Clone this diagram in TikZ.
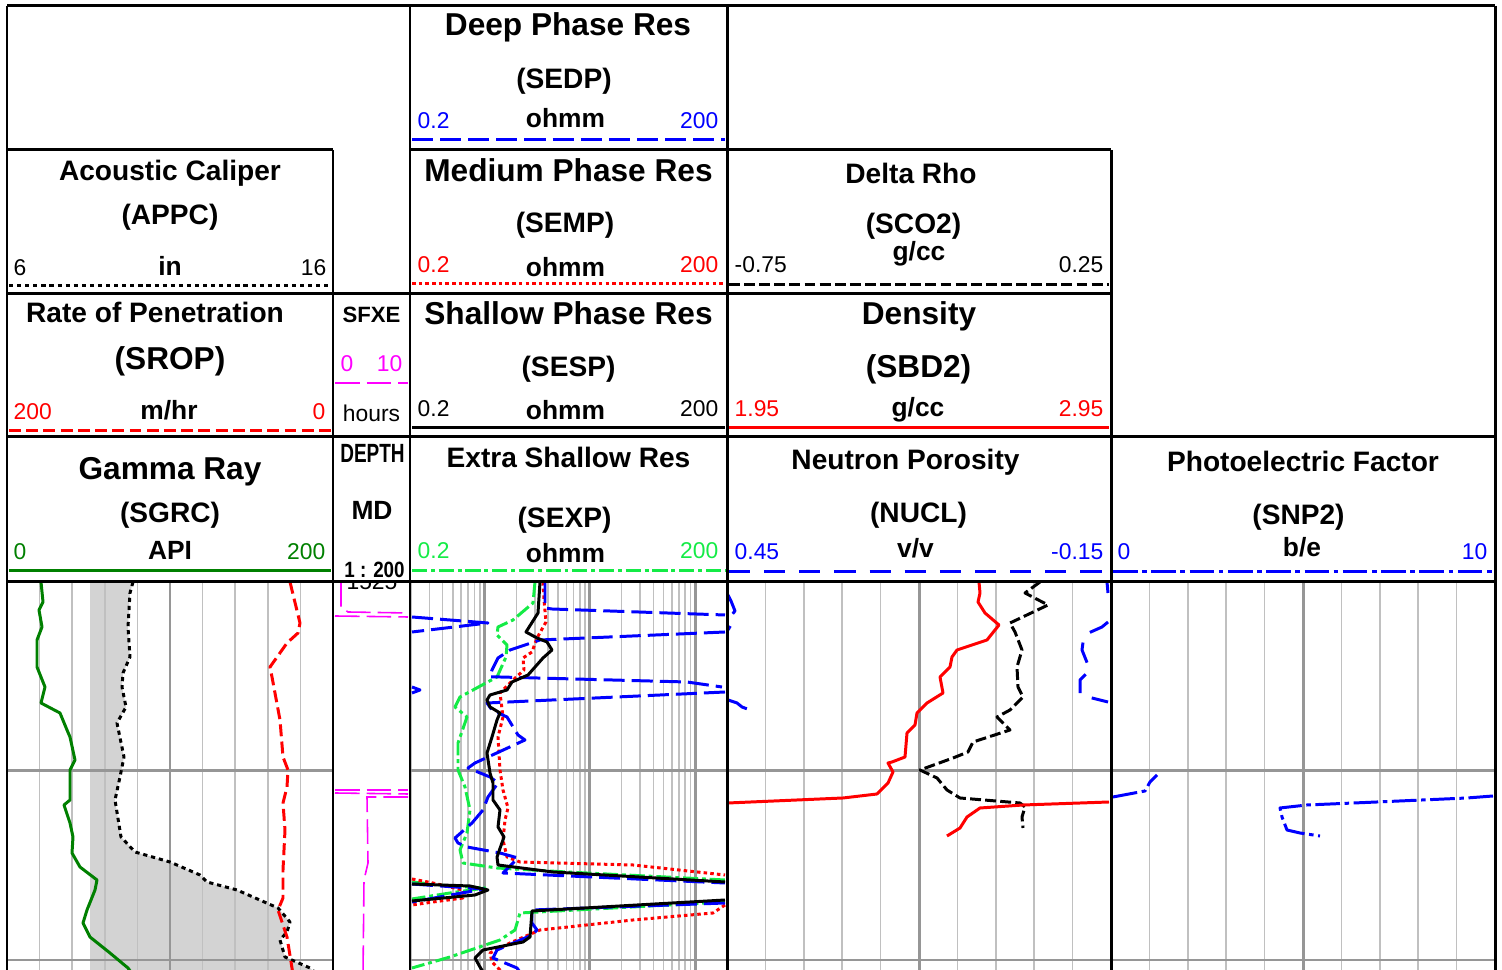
\documentclass[tikz,border=0pt]{standalone}
\usepackage{fontspec}
\usepackage{graphicx}
\setmainfont{Liberation Sans}

\definecolor{grgreen}{RGB}{0,128,0}
\definecolor{xsgreen}{RGB}{20,235,70}
\definecolor{sfxepink}{RGB}{255,0,255}
\definecolor{gridlo}{RGB}{192,192,192}
\definecolor{gridhi}{RGB}{150,150,150}
\definecolor{holegray}{RGB}{211,211,211}

\newcommand\calpts{(133,582) -- (130,593) -- (128,627) -- (130,657) -- (123,673)
  -- (122,687) -- (126,707) -- (117,723) -- (124,757) -- (120,777) -- (115,800)
  -- (121,837) -- (135,852) -- (170,862) -- (200,875) -- (207,882) -- (237,890)
  -- (278,908) -- (290,922) -- (287,932) -- (280,940) -- (285,957) -- (310,968)
  -- (318,975)}

\begin{document}
\begin{tikzpicture}[x=0.1mm,y=-0.1mm,
        trackline/.style={line width=0.85pt},
        curve/.style={line width=0.85pt,line join=round},
        minorgrid/.style={gridlo,line width=0.45pt},
        majorgrid/.style={gridhi,line width=0.85pt},
        calcurve/.style={curve,black,dash pattern=on 1.2pt off 1.1pt},
        ropcurve/.style={curve,red,dash pattern=on 3.4pt off 1.5pt},
        grcurve/.style={curve,grgreen},
        sfxecurve/.style={sfxepink,line width=0.45pt,dash pattern=on 7pt off 2pt},
        deepcurve/.style={curve,blue,dash pattern=on 6pt off 2pt},
        medcurve/.style={curve,red,dash pattern=on 1pt off 0.9pt},
        shalcurve/.style={curve,black},
        xshalcurve/.style={curve,xsgreen,dash pattern=on 4.3pt off 1.1pt on 1.1pt off 1.1pt},
        drhocurve/.style={curve,black,dash pattern=on 3.1pt off 1.2pt},
        dencurve/.style={curve,red},
        neucurve/.style={curve,blue,dash pattern=on 6pt off 4pt},
        pefcurve/.style={curve,blue,dash pattern=on 7pt off 1.3pt on 1.3pt off 1.3pt},
        title/.style={font=\fontsize{8}{9}\selectfont\bfseries,anchor=base},
        bigtitle/.style={font=\fontsize{9}{10}\selectfont\bfseries,anchor=base},
        unit/.style={font=\fontsize{7.5}{8}\selectfont\bfseries,anchor=base},
        num/.style={font=\fontsize{6.5}{7}\selectfont,anchor=base,inner sep=0pt},
        lnum/.style={num,anchor=base west},
        rnum/.style={num,anchor=base east}]

        \useasboundingbox (0,0) rectangle (1502,970);

        \fill[holegray] \calpts -- (90,975) -- (90,582) -- cycle;

        \foreach \i in {1,...,9} {
          \draw[minorgrid] ({7+32.6*\i},582) -- ++(0,393);
          \draw[minorgrid] ({727+38.4*\i},582) -- ++(0,393);
          \draw[minorgrid] ({1111+38.4*\i},582) -- ++(0,393);
        }
        \foreach \k in {-1,0,1} {
          \foreach \m in {2,...,9}
            \draw[minorgrid] ({484.6+105.33*(\k+log10(\m))},582) -- ++(0,393);
        }
        \foreach \x in {170,484.6,589.9,695.2,919,1303}
          \draw[majorgrid] (\x,582) -- ++(0,393);
        \foreach \y in {771,960} {
          \draw[majorgrid] (7,\y) -- (333,\y);
          \draw[majorgrid] (410,\y) -- (1495,\y);
        }

        \node[title] (calT) at (170,181) {Acoustic Caliper};
        \node[title] (calM) at (170,225) {(APPC)};
        \node[lnum] (calL) at (13,276) {6};
        \node[unit] (calU) at (170,276) {in};
        \node[rnum] (calR) at (327,276) {16};
        \draw[calcurve] (9,286) -- (331,286);

        \node[title] (ropT) at (155,323) {Rate of Penetration};
        \node[bigtitle] (ropM) at (170,370) {(SROP)};
        \node[lnum,red] (ropL) at (13,420) {200};
        \node[unit] (ropU) at (169,420) {m/hr};
        \node[rnum,red] (ropR) at (326,420) {0};
        \draw[ropcurve] (9,431) -- (331,431);

        \node[bigtitle] (grT) at (170,480) {Gamma Ray};
        \node[title] (grM) at (170,523) {(SGRC)};
        \node[lnum,grgreen] (grL) at (13,560) {0};
        \node[unit] (grU) at (170,560) {API};
        \node[rnum,grgreen] (grR) at (326,560) {200};
        \draw[grcurve] (9,571) -- (331,571);

        \node[font=\fontsize{6.3}{7}\selectfont\bfseries,anchor=base] (sfxeT) at (371.5,323) {SFXE};
        \node[lnum,sfxepink] (sfxeL) at (340,372) {0};
        \node[rnum,sfxepink] (sfxeR) at (403,372) {10};
        \draw[sfxecurve] (335,383) -- (408,383);
        \node[num] (sfxeU) at (371.5,422) {hours};
        \node[font=\fontsize{7.5}{8}\selectfont\bfseries,anchor=base] (depT) at (372.5,463) {\scalebox{0.72}[1]{DEPTH}};
        \node[unit] (depM) at (372,520) {MD};
        \node[font=\fontsize{6.3}{7}\selectfont\bfseries,anchor=base] (depS) at (374.5,578) {\scalebox{0.85}[1]{1 : 200}};
        \begin{scope}
          \clip (333,584) rectangle (410,975);
          \node[num] (depTop) at (372,590) {1525};
        \end{scope}

        \node[bigtitle] (sedpT) at (568,36) {Deep Phase Res};
        \node[title] (sedpM) at (564,89) {(SEDP)};
        \node[lnum,blue] (sedpL) at (417,129) {0.2};
        \node[unit] (sedpU) at (565.5,128) {ohmm};
        \node[rnum,blue] (sedpR) at (719,129) {200};
        \draw[deepcurve] (412,140) -- (725,140);

        \node[bigtitle] (sempT) at (568.5,182) {Medium Phase Res};
        \node[title] (sempM) at (565,233) {(SEMP)};
        \node[lnum,red] (sempL) at (417,273) {0.2};
        \node[unit] (sempU) at (565.5,277) {ohmm};
        \node[rnum,red] (sempR) at (719,273) {200};
        \draw[medcurve] (412,284) -- (725,284);

        \node[bigtitle] (sespT) at (568.5,325) {Shallow Phase Res};
        \node[title] (sespM) at (568.5,377) {(SESP)};
        \node[lnum] (sespL) at (417,417) {0.2};
        \node[unit] (sespU) at (565.5,420) {ohmm};
        \node[rnum] (sespR) at (719,417) {200};
        \draw[shalcurve] (412,428) -- (725,428);

        \node[title] (sexpT) at (568.5,468) {Extra Shallow Res};
        \node[title] (sexpM) at (564.5,528) {(SEXP)};
        \node[lnum,xsgreen] (sexpL) at (417,559) {0.2};
        \node[unit] (sexpU) at (565.5,563) {ohmm};
        \node[rnum,xsgreen] (sexpR) at (719,559) {200};
        \draw[xshalcurve] (412,571) -- (725,571);

        \node[title] (drhoT) at (911,184) {Delta Rho};
        \node[title] (drhoM) at (913.5,234) {(SCO2)};
        \node[unit] (drhoU) at (919,261) {g/cc};
        \node[lnum] (drhoL) at (734,273) {-0.75};
        \node[rnum] (drhoR) at (1104,273) {0.25};
        \draw[drhocurve] (729,285) -- (1109,285);

        \node[bigtitle] (denT) at (919,325) {Density};
        \node[bigtitle] (denM) at (918.5,378) {(SBD2)};
        \node[lnum,red] (denL) at (734,417) {1.95};
        \node[unit] (denU) at (918,417) {g/cc};
        \node[rnum,red] (denR) at (1104,417) {2.95};
        \draw[dencurve] (729,428) -- (1109,428);

        \node[title] (neuT) at (905.5,470) {Neutron Porosity};
        \node[title] (neuM) at (918.5,523) {(NUCL)};
        \node[lnum,blue] (neuL) at (734,560) {0.45};
        \node[unit] (neuU) at (915.5,558) {v/v};
        \node[rnum,blue] (neuR) at (1104,560) {-0.15};
        \draw[neucurve] (729,572) -- (1109,572);

        \node[title] (pefT) at (1303,472) {Photoelectric Factor};
        \node[title] (pefM) at (1298.5,525) {(SNP2)};
        \node[lnum,blue] (pefL) at (1117,560) {0};
        \node[unit] (pefU) at (1302,557) {b/e};
        \node[rnum,blue] (pefR) at (1488,560) {10};
        \draw[pefcurve] (1113,572) -- (1493,572);

        \draw[calcurve] \calpts;
        \draw[grcurve] (41,582) -- (43,602) -- (39,610) -- (42,627) -- (37,640) -- (37,667) -- (45,687) -- (41,703) -- (60,713) -- (67,730) -- (70,737) -- (75,760) -- (70,770) -- (70,800) -- (64,805) -- (70,823) -- (73,837) -- (72,853) -- (80,867) -- (97,880) -- (95,890) -- (87,910) -- (83,923) -- (90,937) -- (110,953) -- (128,968) -- (133,975);
        \draw[ropcurve] (290,582) -- (300,623) -- (298,633) -- (287,643) -- (270,667) -- (272,677) -- (280,720) -- (283,757) -- (288,770) -- (287,787) -- (283,803) -- (285,830) -- (283,870) -- (283,898) -- (278,910) -- (287,937) -- (292,968) -- (293,975);

        \draw[sfxecurve] (341,582) -- (341,607) -- (348,612) -- (408,613);
        \draw[sfxecurve] (335,616) -- (408,617);
        \draw[sfxecurve] (335,790) -- (408,790);
        \draw[sfxecurve] (335,793) -- (408,794);
        \draw[sfxecurve] (408,797) -- (367,797) -- (368,863) -- (364,880) -- (363,975);

        \draw[xshalcurve] (535,582) -- (533,603) -- (513,620) -- (498,627) -- (497,635) -- (507,645) -- (506,657) -- (497,677) -- (460,697) -- (455,707) -- (467,717) -- (458,743) -- (458,770) -- (465,787) -- (470,810) -- (467,833) -- (460,850) -- (463,863) -- (497,868) -- (567,872) -- (725,880);
        \draw[xshalcurve] (412,882) -- (450,886) -- (485,888) -- (450,893) -- (412,899);
        \draw[xshalcurve] (725,902) -- (520,913) -- (515,930) -- (500,940) -- (450,957) -- (412,968);

        \draw[medcurve] (543,582) -- (544,600) -- (546,622) -- (537,638) -- (532,652) -- (523,658) -- (524,670) -- (513,680) -- (500,693) -- (503,717) -- (498,737) -- (500,770) -- (503,790) -- (508,808) -- (505,820) -- (503,840) -- (507,857) -- (520,862) -- (633,865) -- (725,875);
        \draw[medcurve] (412,879) -- (433,883) -- (463,890) -- (463,898) -- (433,902) -- (412,905);
        \draw[medcurve] (725,905) -- (713,913) -- (633,920) -- (540,930) -- (533,933) -- (510,943) -- (490,953) -- (492,962) -- (500,970) -- (503,975);

        \draw[deepcurve] (545,582) -- (545,608) -- (552,609) -- (725,615);
        \draw[deepcurve] (412,617) -- (488,623) -- (412,632);
        \draw[deepcurve] (725,632) -- (540,640) -- (510,650) -- (498,658) -- (492,670) -- (490,677) -- (500,677) -- (687,682) -- (722,687);
        \draw[deepcurve] (412,687) -- (420,690) -- (412,693);
        \draw[deepcurve] (725,692) -- (487,703) -- (492,710) -- (507,717) -- (518,735) -- (525,740) -- (475,763) -- (468,768) -- (490,777) -- (498,783) -- (488,797) -- (483,810) -- (472,823) -- (455,838) -- (458,843) -- (467,847) -- (500,853) -- (518,858) -- (510,866) -- (503,873) -- (725,883);
        \draw[deepcurve] (412,884) -- (484,889) -- (412,902);
        \draw[deepcurve] (725,903) -- (532,910) -- (532,923) -- (537,930) -- (532,935) -- (497,950) -- (493,958) -- (517,968) -- (522,975);

        \draw[shalcurve] (540,582) -- (538,613) -- (526,632) -- (537,638) -- (547,642) -- (552,650) -- (543,658) -- (528,675) -- (512,682) -- (507,690) -- (490,695) -- (487,700) -- (490,707) -- (500,713) -- (497,720) -- (492,737) -- (487,753) -- (490,773) -- (493,783) -- (493,800) -- (500,810) -- (498,827) -- (504,837) -- (497,857) -- (498,865) -- (553,872) -- (725,882);
        \draw[shalcurve] (412,884) -- (470,886) -- (488,890) -- (475,895) -- (412,901);
        \draw[shalcurve] (725,900) -- (532,911) -- (530,937) -- (523,942) -- (483,950) -- (475,958) -- (480,967) -- (485,975);

        \draw[drhocurve] (1040,582) -- (1025,593) -- (1048,605) -- (1010,623) -- (1015,632) -- (1022,650) -- (1017,667) -- (1018,687) -- (1023,697) -- (1010,710) -- (997,717) -- (1010,730) -- (973,742) -- (968,752) -- (953,758) -- (920,770) -- (937,778) -- (947,790) -- (960,798) -- (1020,803) -- (1025,807) -- (1022,817) -- (1023,828);
        \draw[dencurve] (979,582) -- (980,593) -- (978,602) -- (985,613) -- (999,625) -- (987,640) -- (957,650) -- (952,657) -- (950,667) -- (940,677) -- (943,693) -- (927,703) -- (917,713) -- (915,725) -- (907,733) -- (905,757) -- (892,762) -- (888,763) -- (893,772) -- (888,783) -- (877,794) -- (843,798) -- (728,803);
        \draw[dencurve] (1109,802) -- (1023,805) -- (980,808) -- (967,817) -- (960,828) -- (947,836);
        \draw[neucurve] (1107,582) -- (1108,593);
        \draw[neucurve] (728,595) -- (731,601) -- (735,611) -- (730,617) -- (732,623) -- (728,630);
        \draw[neucurve] (1108,622) -- (1102,627) -- (1084,635) -- (1082,650) -- (1090,670) -- (1080,680) -- (1080,695) -- (1108,702);
        \draw[neucurve] (728,700) -- (737,703) -- (742,707) -- (750,710);

        \draw[pefcurve] (1113,797) -- (1145,791) -- (1150,782) -- (1157,775);
        \draw[pefcurve] (1493,796) -- (1467,798) -- (1377,802) -- (1307,805) -- (1280,808) -- (1282,817) -- (1287,830) -- (1300,833) -- (1320,836);

        \draw[trackline] (7,6) -- (1495,6);
        \draw[trackline] (7,6) -- (7,975);
        \draw[trackline] (1495,6) -- (1495,975);
        \draw[trackline] (410,6) -- (410,975);
        \draw[trackline] (727,6) -- (727,975);
        \draw[trackline] (333,150) -- (333,975);
        \draw[trackline] (1111,150) -- (1111,975);
        \draw[trackline] (7,150) -- (333,150);
        \draw[trackline] (410,150) -- (1111,150);
        \draw[trackline] (7,294) -- (1111,294);
        \draw[trackline] (7,437) -- (1495,437);
        \draw[trackline] (7,582) -- (1495,582);
\end{tikzpicture}
\end{document}
